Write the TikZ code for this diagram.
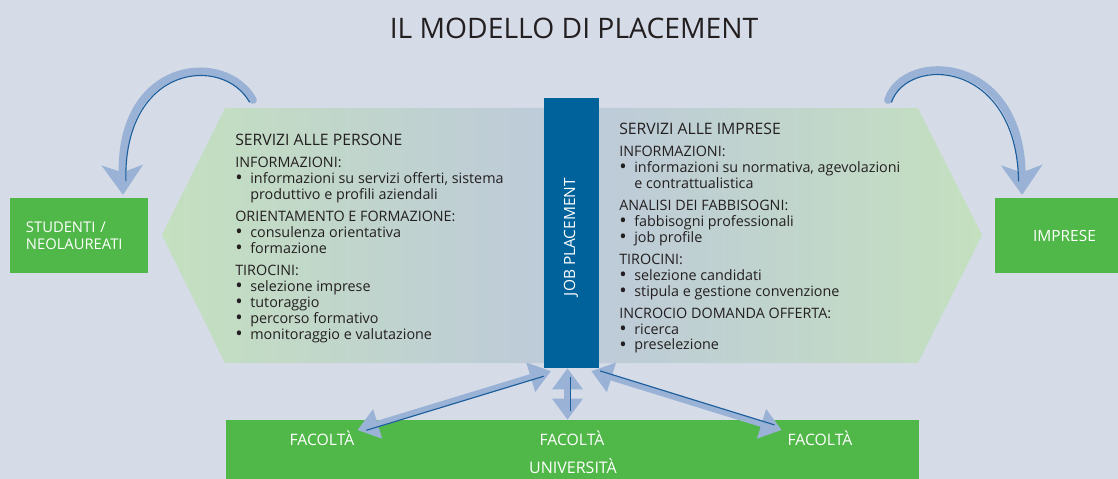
\documentclass[tikz,border=0pt]{standalone}
\usepackage{fontspec}
\setmainfont{Open Sans}
\usetikzlibrary{positioning,arrows.meta,calc}

\definecolor{bgblue}{HTML}{D5DCE8}
\definecolor{boxgreen}{HTML}{50B848}
\definecolor{barblue}{HTML}{00629B}
\definecolor{hexgreen}{HTML}{C4E0BF}
\definecolor{hexblue}{HTML}{BDC9DB}
\definecolor{arrlight}{HTML}{9AB2D6}
\definecolor{arrdark}{HTML}{1B5E9B}
\definecolor{txt}{HTML}{231F20}

\newcommand{\bul}[1]{\makebox[1.05em][l]{\smash{\raisebox{-0.9pt}{\fontsize{14}{0}\selectfont\textbullet}}}#1}
\newcommand{\cont}[1]{\hspace*{1.05em}#1}

\begin{document}
\begin{tikzpicture}[x=0.025cm,y=-0.025cm,
  greenbox/.style={fill=boxgreen,text=white,inner sep=0pt,font=\fontsize{10.5}{12}\selectfont},
  servhead/.style={anchor=base west,inner sep=0pt,text=txt,font=\fontsize{11.2}{12}\selectfont},
  servlist/.style={align=left,inner sep=0pt,text=txt,font=\fontsize{10.2}{11.34}\selectfont},
  faclabel/.style={anchor=base,text=white,inner sep=0pt,font=\fontsize{11.2}{12}\selectfont},
  fatarrow/.style={draw=arrlight,line width=5.5pt,line cap=round,-{Stealth[length=21pt,width=29pt,inset=5pt]}},
  dblarrow/.style={draw=arrlight,line width=4.5pt,{Triangle[length=15pt,width=21pt]}-{Triangle[length=15pt,width=21pt]}},
  edgeline/.style={draw=arrdark,line width=0.8pt}]

\fill[bgblue] (0,0) rectangle (1118,479);
\useasboundingbox (0,0) rectangle (1118,479);

\node (title) [text=txt,font=\fontsize{20.1}{22}\selectfont] at (574,28) {IL MODELLO DI PLACEMENT};

% the two halves of the services shape
\shade[left color=hexgreen,right color=hexblue] (162,235) -- (225,108) -- (571,108) -- (571,363) -- (225,363) -- cycle;
\shade[left color=hexblue,right color=hexgreen] (571,108) -- (918,108) -- (982,235) -- (918,363) -- (571,363) -- cycle;

\node (stud) [greenbox,minimum height=1.875cm,text width=2.65cm,inner xsep=0.4cm,align=left] at (79,235.5) {STUDENTI /\\NEOLAUREATI};
\node (impr) [greenbox,font=\fontsize{11}{12}\selectfont,minimum width=3.475cm,minimum height=1.875cm] at (1064.5,235.5) {IMPRESE};
\node (uni) [fill=boxgreen,inner sep=0pt,minimum width=17.325cm,minimum height=1.55cm] at (572.5,451) {};
\node (job) [fill=barblue,inner sep=0pt,minimum width=1.375cm,minimum height=6.75cm] at (571.5,233) {};
\node (jobtxt) [rotate=90,text=white,inner sep=0pt,font=\fontsize{11}{12}\selectfont] at (571,237) {JOB PLACEMENT};

% servizi alle persone
\node (perhead) [servhead] at (235,145.5) {SERVIZI ALLE PERSONE};
\node (perlist) [servlist,below right=0.275cm and 0cm of perhead.south west] {%
  INFORMAZIONI:\\
  \bul{informazioni su servizi offerti, sistema}\\
  \cont{produttivo e profili aziendali}\\[4.25pt]
  ORIENTAMENTO E FORMAZIONE:\\
  \bul{consulenza orientativa}\\
  \bul{formazione}\\[4.25pt]
  TIROCINI:\\
  \bul{selezione imprese}\\
  \bul{tutoraggio}\\
  \bul{percorso formativo}\\
  \bul{monitoraggio e valutazione}};

% servizi alle imprese
\node (imphead) [servhead] at (619,134.5) {SERVIZI ALLE IMPRESE};
\node (implist) [servlist,below right=0.275cm and 0cm of imphead.south west] {%
  INFORMAZIONI:\\
  \bul{informazioni su normativa, agevolazioni}\\
  \cont{e contrattualistica}\\[4.25pt]
  ANALISI DEI FABBISOGNI:\\
  \bul{fabbisogni professionali}\\
  \bul{job profile}\\[4.25pt]
  TIROCINI:\\
  \bul{selezione candidati}\\
  \bul{stipula e gestione convenzione}\\[4.25pt]
  INCROCIO DOMANDA OFFERTA:\\
  \bul{ricerca}\\
  \bul{preselezione}};

\node (fac1) [faclabel] at (322,445) {FACOLTÀ};
\node (fac2) [faclabel] at (572,445) {FACOLTÀ};
\node (fac3) [faclabel] at (820,445) {FACOLTÀ};
\node (unitxt) [faclabel,font=\fontsize{11.4}{12}\selectfont] at (573,473.5) {UNIVERSITÀ};

% curved arrows
\coordinate (lsrc) at (253,100);
\coordinate (lctr) at (185,145);
\coordinate (ltip) at ([xshift=1.1cm,yshift=2pt]stud.north);
\draw[fatarrow] (lsrc) .. controls (225,50) and (120,60) .. (ltip);
\draw[edgeline,shorten >=8pt] ($(lsrc)!0.05!(lctr)$) .. controls ($(225,50)!0.05!(lctr)$) and ($(120,60)!0.05!(lctr)$) .. ($(ltip)!0.05!(lctr)$);

\coordinate (rsrc) at (888,100);
\coordinate (rctr) at (955,150);
\coordinate (rtip) at ([xshift=-1.06cm,yshift=2pt]impr.north);
\draw[fatarrow] (rsrc) .. controls (905,50) and (1020,55) .. (rtip);
\draw[edgeline,shorten >=8pt] ($(rsrc)!0.05!(rctr)$) .. controls ($(905,50)!0.05!(rctr)$) and ($(1020,55)!0.05!(rctr)$) .. ($(rtip)!0.05!(rctr)$);

% arrows to the faculties
\coordinate (jl) at ([xshift=0.18cm,yshift=-2pt]job.south west);
\coordinate (jm) at ([xshift=-0.1cm]job.south);
\coordinate (jr) at ([xshift=-0.2cm,yshift=-2pt]job.south east);
\coordinate (ul) at ([xshift=2pt]fac1.north east);
\coordinate (um) at (jm |- uni.north);
\coordinate (ur) at ([xshift=-4pt]fac3.north west);
\foreach \a/\b in {jl/ul,jm/um,jr/ur}{
  \draw[dblarrow] (\a) -- (\b);
  \draw[edgeline,shorten <=6pt,shorten >=6pt] ($(\a)!2pt!90:(\b)$) -- ($(\b)!2pt!-90:(\a)$);
}
\end{tikzpicture}
\end{document}
